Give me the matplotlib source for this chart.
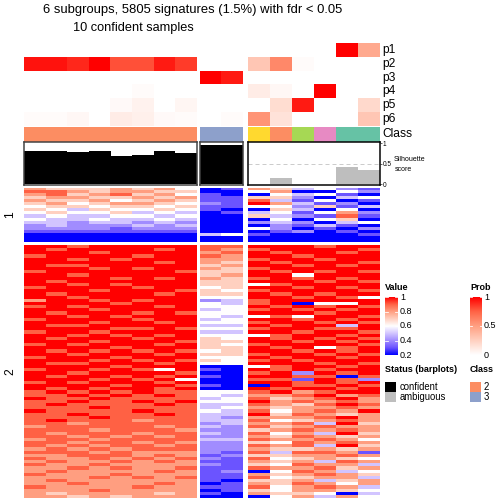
import numpy as np
import matplotlib
matplotlib.use('Agg')
import matplotlib.pyplot as plt
from matplotlib.colors import LinearSegmentedColormap, to_rgb

plt.rcParams['font.family'] = ['Liberation Sans', 'DejaVu Sans']

# ---------------- data ----------------
title_line1 = "6 subgroups, 5805 signatures (1.5%) with fdr < 0.05"
title_line2 = "10 confident samples"
prob_labels = ['p1', 'p2', 'p3', 'p4', 'p5', 'p6']
group_sizes = [8, 2, 6]
class_ids = [2, 2, 2, 2, 2, 2, 2, 2, 3, 3, 6, 2, 5, 4, 1, 1]
class_colors = {1: '#66C2A5', 2: '#FC8D62', 3: '#8DA0CB', 4: '#E78AC3', 5: '#A6D854', 6: '#FFD92F'}

p1 = [0, 0, 0, 0, 0, 0, 0, 0, 0, 0, 0, 0, 0, 0, 1.0, 0.45]
p2 = [0.95, 0.95, 0.9, 1.0, 0.8, 0.8, 0.93, 0.85, 0, 0, 0.3, 0.6, 0.02, 0, 0, 0]
p3 = [0, 0, 0, 0, 0, 0, 0, 0, 1.0, 0.93, 0, 0, 0, 0, 0, 0]
p4 = [0, 0, 0, 0, 0, 0.02, 0, 0, 0, 0, 0.1, 0.04, 0, 1.0, 0, 0]
p5 = [0, 0, 0, 0, 0.03, 0.07, 0, 0.05, 0, 0, 0, 0.18, 0.93, 0, 0, 0.2]
p6 = [0.02, 0.02, 0.04, 0, 0.1, 0.08, 0.03, 0.02, 0, 0.02, 0.55, 0.15, 0, 0, 0, 0.3]

silhouette = [0.81, 0.81, 0.79, 0.81, 0.69, 0.72, 0.81, 0.76, 0.96, 0.96,
              0.0, 0.16, 0.0, 0.0, 0.42, 0.35]
status = ['confident'] * 10 + ['ambiguous'] * 6

# heatmap values: digit d -> 0.2 + 0.1*d  (columns: 8 | 2 | 6)
cluster1_rows = [
    "65556564 01 653421",
    "77656655 00 460042",
    "67567564 10 043410",
    "56655656 11 552034",
    "65564565 11 731401",
    "56456654 21 863120",
    "45545545 11 442513",
    "54354454 10 053040",
    "45445343 01 341462",
    "34334434 00 532171",
    "43343343 00 040450",
    "33233232 00 232034",
    "23222323 00 021310",
    "22221222 00 420102",
    "11111111 00 012010",
    "00000000 34 100001",
    "00000000 00 000000",
    "00000000 00 000000",
]
cluster2_rows = [
    "88788888 77 888788", "87888878 76 788887", "88878888 67 878878", "78888788 76 887888",
    "88787888 66 788788", "88888878 65 878887", "87788888 56 887878", "88878788 65 788888",
    "78888887 55 878787", "88788888 56 884888", "88887878 65 787878", "87888888 55 888787",
    "88787888 55 478888", "78888788 45 887878", "88878887 54 788887", "87888878 55 878788",
    "88788888 44 887874", "68878788 23 788888", "88887888 43 780448", "78788878 44 878787",
    "88878888 34 787878", "87888787 44 888788", "88787888 43 474887", "78888788 34 887878",
    "88878878 44 788787", "87788888 33 878838", "88887787 44 788778", "78878888 33 887887",
    "88787878 44 478878", "87888788 54 878787", "88878887 55 887878", "78788878 54 788887",
    "88887888 55 878478", "87878787 45 887878", "88788878 55 788787", "78887888 44 878878",
    "88878787 54 787888", "87788878 44 888787", "88887888 00 478878", "78878748 10 878788",
    "88788887 00 782878", "87887878 10 887707", "88878784 00 771872", "78788878 00 887878",
    "88887887 10 087787", "87878878 00 878878", "78787877 44 786788", "77878787 43 667867",
    "87787777 34 756786", "77877878 44 867676", "78777787 33 765787", "77787777 34 656676",
    "87777877 43 746768", "77877787 33 857656", "77787777 32 666786", "78777677 33 745676",
    "77677777 23 667385", "67777767 32 756766", "77767776 22 567676", "76777677 32 746385",
    "77676767 22 657656", "67767777 33 766764", "77677676 22 547676", "76767767 22 767385",
    "67676777 22 655656", "77767666 21 737761", "66777676 12 556676", "76676767 21 745654",
    "67667676 11 656376", "76676666 21 547663", "66767667 11 766756", "67666676 12 047634",
    "76667666 11 656765", "66676767 11 745663", "67666666 10 556356", "66766676 01 657646",
    "76666766 11 746763", "66676666 01 546654", "65666656 10 655403", "66565666 00 046364",
]

# ---------------- layout (pixels) ----------------
W = H = 504
fig = plt.figure(figsize=(7, 7), dpi=72)

def px_ax(x0, y0, x1, y1):
    ax = fig.add_axes([x0 / W, 1 - y1 / H, (x1 - x0) / W, (y1 - y0) / H])
    return ax

def ftext(x, y, s, **kw):
    return fig.text(x / W, 1 - y / H, s, **kw)

col_x = [(24, 197), (200, 243), (248, 380)]
prob_y = (43.3, 125.7)
class_y = (127.3, 141.7)
sil_y = (142.3, 185.3)
hm_y = [(187.5, 241.7), (245, 498)]

value_cmap = LinearSegmentedColormap.from_list('val', [
    (0.0, '#0000FF'), (0.125, '#6B54FF'), (0.25, '#A18CFF'), (0.375, '#D3C6FF'),
    (0.5, '#FFFFFF'), (0.625, '#FFD0C0'), (0.75, '#FFA082'), (0.875, '#FF6446'), (1.0, '#FF0000')])
prob_cmap = LinearSegmentedColormap.from_list('prob', [
    (0.0, '#FFFFFF'), (0.25, '#FFD0C0'), (0.5, '#FFA082'), (0.75, '#FF6446'), (1.0, '#FF0000')])

def parse(rows):
    return 0.2 + 0.1 * np.array([[int(c) for c in r.replace(' ', '')] for r in rows], dtype=float)

hm1 = parse(cluster1_rows)
hm2 = parse(cluster2_rows)
prob = np.array([p1, p2, p3, p4, p5, p6])

starts = np.cumsum([0] + group_sizes)
for g in range(3):
    a, b = starts[g], starts[g + 1]
    x0, x1 = col_x[g]
    # probability rows
    ax = px_ax(x0, prob_y[0], x1, prob_y[1])
    ax.imshow(prob[:, a:b], cmap=prob_cmap, vmin=0, vmax=1, aspect='auto', interpolation='nearest')
    ax.set_axis_off()
    # class row
    ax = px_ax(x0, class_y[0], x1, class_y[1])
    img = np.array([[to_rgb(class_colors[c]) for c in class_ids[a:b]]])
    ax.imshow(img, aspect='auto', interpolation='nearest')
    ax.set_axis_off()
    # silhouette
    ax = px_ax(x0, sil_y[0], x1, sil_y[1])
    cols = ['black' if s == 'confident' else '#BEBEBE' for s in status[a:b]]
    ax.axhline(0.5, color='#CCCCCC', ls=(0, (4, 3)), lw=1, zorder=0)
    ax.bar(np.arange(b - a), silhouette[a:b], width=1.0, color=cols, zorder=1)
    ax.set_xlim(-0.5, b - a - 0.5)
    ax.set_ylim(-0.024, 1.024)
    ax.set_xticks([])
    for sp in ax.spines.values():
        sp.set_linewidth(1.5)
        sp.set_color('#404040' if g < 2 else 'black')
    if g == 2:
        ax.yaxis.tick_right()
        ax.set_yticks([0, 0.5, 1])
        ax.set_yticklabels(['0', '0.5', '1'], fontsize=6.5)
        ax.tick_params(axis='y', length=2, pad=1, width=0.6)
    else:
        ax.set_yticks([])
    # heatmaps
    for hm, (y0, y1) in zip([hm1, hm2], hm_y):
        ax = px_ax(x0, y0, x1, y1)
        ax.imshow(hm[:, a:b], cmap=value_cmap, vmin=0.2, vmax=1.0, aspect='auto', interpolation='nearest')
        ax.set_axis_off()

# annotations
ftext(193, 10, title_line1, ha='center', va='center', fontsize=13)
ftext(133, 28, title_line2, ha='center', va='center', fontsize=12.7)
for i, lab in enumerate(prob_labels):
    yc = prob_y[0] + (i + 0.5) * (prob_y[1] - prob_y[0]) / 6
    ftext(382, yc, lab, ha='left', va='center', fontsize=12)
ftext(382, 134.5, 'Class', ha='left', va='center', fontsize=12)
ftext(394, 159.5, 'Silhouette', ha='left', va='center', fontsize=7)
ftext(395, 169.5, 'score', ha='left', va='center', fontsize=7)
ftext(10, 214.6, '1', rotation=90, ha='center', va='center', fontsize=12)
ftext(10, 371.5, '2', rotation=90, ha='center', va='center', fontsize=12)

# legends
def colorbar_legend(x0, y0, x1, y1, cmap, vmin, vmax, ticks, labels, lx):
    ax = px_ax(x0, y0, x1, y1)
    grad = np.linspace(vmax, vmin, 200)[:, None]
    ax.imshow(grad, cmap=cmap, vmin=vmin, vmax=vmax, aspect='auto',
              extent=(0, 1, vmin, vmax), interpolation='bilinear')
    for t in ticks:
        ax.plot([0, 0.2], [t, t], color='white', lw=0.8)
        ax.plot([0.8, 1], [t, t], color='white', lw=0.8)
    ax.set_xlim(0, 1)
    ax.set_ylim(vmin, vmax)
    ax.set_axis_off()
    for t, l in zip(ticks, labels):
        yy = y1 - (t - vmin) / (vmax - vmin) * (y1 - y0)
        ftext(lx, yy, l, ha='left', va='center', fontsize=9)

ftext(385, 287, 'Value', ha='left', va='center', fontsize=9, fontweight='bold')
colorbar_legend(385, 297, 398, 355, value_cmap, 0.2, 1.0,
                [0.2, 0.4, 0.6, 0.8, 1.0], ['0.2', '0.4', '0.6', '0.8', '1'], 400)
ftext(470, 287, 'Prob', ha='left', va='center', fontsize=9, fontweight='bold')
colorbar_legend(470, 297, 482, 355, prob_cmap, 0.0, 1.0,
                [0, 0.5, 1.0], ['0', '0.5', '1'], 484)

ftext(385, 370, 'Status (barplots)', ha='left', va='center', fontsize=9, fontweight='bold')
for i, (lab, c) in enumerate([('confident', 'black'), ('ambiguous', '#BEBEBE')]):
    ax = px_ax(385, 382 + i * 10, 396, 392 + i * 10)
    ax.set_facecolor(c)
    ax.set_xticks([]); ax.set_yticks([])
    for sp in ax.spines.values():
        sp.set_visible(False)
    ftext(400, 387 + i * 10, lab, ha='left', va='center', fontsize=9.5)

ftext(470, 370, 'Class', ha='left', va='center', fontsize=9, fontweight='bold')
for i, c in enumerate([2, 3]):
    ax = px_ax(470, 382 + i * 10, 481, 392 + i * 10)
    ax.set_facecolor(class_colors[c])
    ax.set_xticks([]); ax.set_yticks([])
    for sp in ax.spines.values():
        sp.set_visible(False)
    ftext(484, 387 + i * 10, str(c), ha='left', va='center', fontsize=9.5)

fig.savefig('out.png', dpi=72)
